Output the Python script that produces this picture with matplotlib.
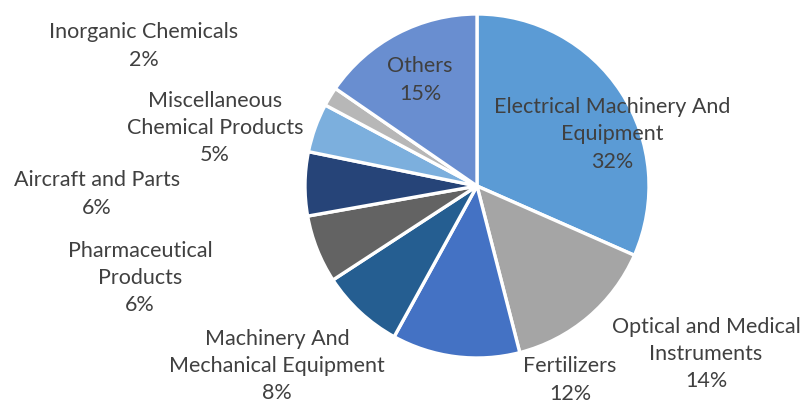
import matplotlib.pyplot as plt

# slice values (percent), clockwise from 12 o'clock
categories = ["Electrical Machinery And\nEquipment", "Optical and Medical\nInstruments",
              "Fertilizers", "Machinery And\nMechanical Equipment", "Pharmaceutical\nProducts",
              "Aircraft and Parts", "Miscellaneous\nChemical Products", "Inorganic Chemicals",
              "Others"]
values = [31.6, 14.4, 12.0, 7.8, 6.4, 6.0, 4.6, 1.8, 15.4]
colors = ["#5B9BD5", "#A5A5A5", "#4472C4", "#255E91", "#636363",
          "#264478", "#7CAFDD", "#B7B7B7", "#698ED0"]

# label centres in pie units (radius = 1)
label_pos = [(0.785, 0.30), (1.331, -0.977), (0.541, -1.128), (-1.163, -1.047),
             (-1.959, -0.535), (-2.209, -0.047), (-1.523, 0.337), (-1.936, 0.814),
             (-0.331, 0.616)]

fig = plt.figure(figsize=(8.06, 4.04), dpi=100)
ax = fig.add_axes([0, 0, 1, 1])

ax.pie(values, colors=colors, startangle=90, counterclock=False, radius=1,
       wedgeprops=dict(edgecolor="white", linewidth=2.4))

total = sum(values)
for name, v, (x, y) in zip(categories, values, label_pos):
    ax.text(x, y, f"{name}\n{round(v / total * 100)}%", ha="center", va="center",
            fontsize=15.5, family="Lato", color="#404040", linespacing=1.45)

ax.set_xlim(-477 / 172, (806 - 477) / 172)
ax.set_ylim(-(404 - 186) / 172, 186 / 172)
ax.set_aspect("equal")
ax.axis("off")

fig.savefig("out.png", dpi=100)
